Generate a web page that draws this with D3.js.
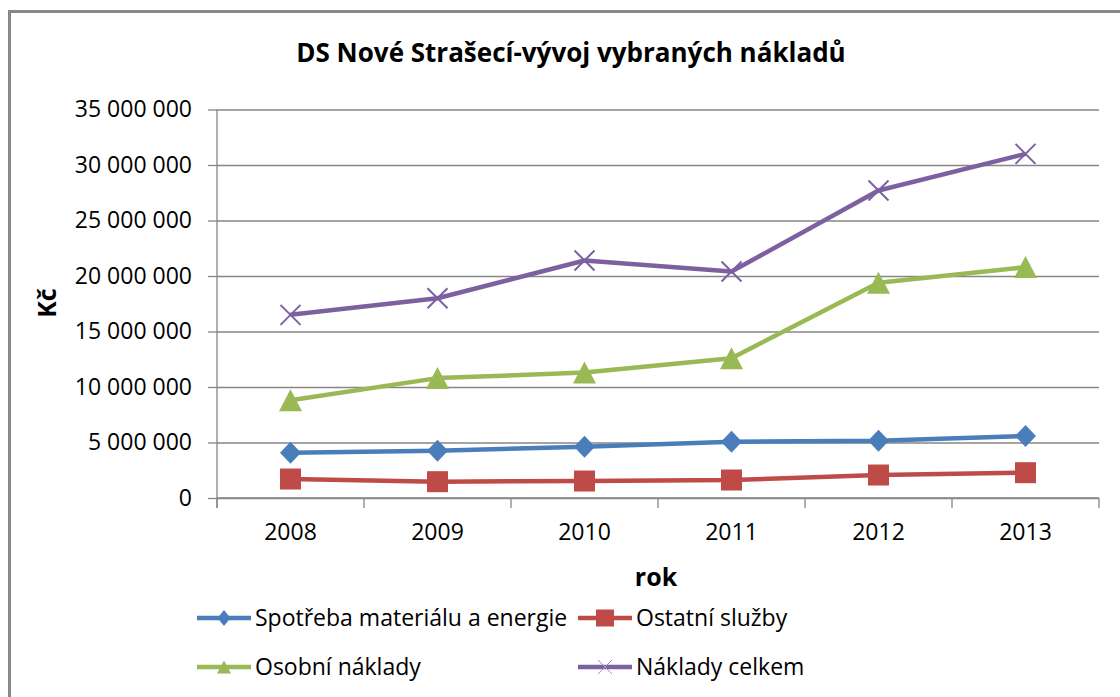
<!DOCTYPE html>
<html>
<head>
<meta charset="utf-8">
<script src="https://cdn.jsdelivr.net/npm/d3@7"></script>
<style>
  body { margin: 0; background: #fff; }
  svg text { font-family: "Open Sans", "Noto Sans", sans-serif; fill: #000; }
  .axis path, .axis line { stroke: #868686; }
</style>
</head>
<body>
<svg id="chartSvg" width="1120" height="697"></svg>
<script>
var years = ['2008', '2009', '2010', '2011', '2012', '2013']
var spotreba = [4080000, 4260000, 4620000, 5070000, 5160000, 5590000]
var ostatni = [1710000, 1470000, 1530000, 1620000, 2070000, 2280000]
var osobni = [8800000, 10800000, 11300000, 12600000, 19400000, 20800000]
var celkem = [16500000, 18000000, 21400000, 20400000, 27700000, 31000000]
var seriesNames = ['Spotřeba materiálu a energie', 'Ostatní služby', 'Osobní náklady', 'Náklady celkem']
var yTicks = [0, 5000000, 10000000, 15000000, 20000000, 25000000, 30000000, 35000000]

var svg = d3.select('#chartSvg')

// outer frame (right and bottom edges fall outside the picture)
svg.append('rect')
    .attr('x', 9.5).attr('y', 11.5)
    .attr('width', 1130).attr('height', 700)
    .attr('fill', 'none')
    .attr('stroke', '#888')
    .attr('stroke-width', 3)

var plotLeft = 217, plotRight = 1099, plotTop = 109.5, plotBottom = 498

var x = d3.scaleBand()
    .domain(years)
    .range([plotLeft, plotRight])
    .padding(0)
var y = d3.scaleLinear()
    .domain([0, 35000000])
    .range([plotBottom, plotTop])

var fmt = function (d) { return d3.format(',')(d).replace(/,/g, ' ') }

// gridlines
svg.append('g')
    .attr('class', 'axis')
    .attr('transform', `translate(${plotLeft},0)`)
    .call(d3.axisRight(y).tickValues(yTicks).tickSize(plotRight - plotLeft).tickFormat(''))
    .call(g => g.select('.domain').remove())
    .selectAll('line').attr('stroke-width', 1.3)

// y axis
var gY = svg.append('g')
    .attr('class', 'axis')
    .attr('transform', `translate(${plotLeft},0)`)
    .call(d3.axisLeft(y).tickValues(yTicks).tickSize(9).tickSizeOuter(0).tickPadding(16).tickFormat(fmt))
gY.select('.domain').attr('stroke-width', 1.3).attr('d', `M0,${plotTop}V${plotBottom + 10}`)
gY.selectAll('line').attr('stroke-width', 1.3)
gY.selectAll('text').attr('font-size', 23).style('font-family', '"Open Sans", sans-serif').attr('fill', '#000')

// x axis: labels centred in band, ticks on band edges
var gX = svg.append('g')
    .attr('class', 'axis')
    .attr('transform', `translate(0,${plotBottom})`)
    .call(d3.axisBottom(x).tickSize(0).tickPadding(26))
gX.select('.domain').attr('stroke-width', 1.3).attr('d', `M${plotLeft},0H${plotRight}`)
gX.selectAll('text').attr('font-size', 23).style('font-family', '"Open Sans", sans-serif').attr('fill', '#000')
gX.selectAll('.edgeTick')
    .data(years.map(d => x(d)).concat([plotRight]))
    .join('line')
    .attr('class', 'edgeTick')
    .attr('x1', d => d).attr('x2', d => d)
    .attr('y1', 0).attr('y2', 10)
    .attr('stroke', '#868686')
    .attr('stroke-width', 1.3)

// titles
svg.append('text')
    .attr('x', 571).attr('y', 62)
    .attr('text-anchor', 'middle')
    .attr('font-size', 26).attr('font-weight', 'bold')
    .text('DS Nové Strašecí-vývoj vybraných nákladů')
svg.append('text')
    .attr('x', 656).attr('y', 586)
    .attr('text-anchor', 'middle')
    .attr('font-size', 25).attr('font-weight', 'bold')
    .text('rok')
svg.append('text')
    .attr('transform', 'translate(56,303) rotate(-90)')
    .attr('text-anchor', 'middle')
    .attr('font-size', 25).attr('font-weight', 'bold')
    .text('Kč')

// marker shapes
function diamond(w, h) { return `M0,${-h / 2}L${w / 2},0L0,${h / 2}L${-w / 2},0Z` }
function square(w, h) { return `M${-w / 2},${-h / 2}H${w / 2}V${h / 2}H${-w / 2}Z` }
function triangle(w, h) { return `M0,${-h / 2}L${w / 2},${h / 2}H${-w / 2}Z` }
function cross(w, h) { return `M${-w / 2},${-h / 2}L${w / 2},${h / 2}M${-w / 2},${h / 2}L${w / 2},${-h / 2}` }

var series = [
    { name: seriesNames[0], values: spotreba, color: '#4a7ebb', shape: diamond, fill: true },
    { name: seriesNames[1], values: ostatni, color: '#be4b48', shape: square, fill: true },
    { name: seriesNames[2], values: osobni, color: '#98b954', shape: triangle, fill: true },
    { name: seriesNames[3], values: celkem, color: '#7d60a0', shape: cross, fill: false }
]

var line = d3.line()
    .x((d, i) => x(years[i]) + x.bandwidth() / 2)
    .y(d => y(d))

var gSeries = svg.selectAll('.series')
    .data(series)
    .join('g')
    .attr('class', 'series')

gSeries.append('path')
    .attr('d', d => line(d.values))
    .attr('fill', 'none')
    .attr('stroke', d => d.color)
    .attr('stroke-width', 4.5)
    .attr('stroke-linejoin', 'round')

gSeries.each(function (s) {
    d3.select(this).selectAll('.marker')
        .data(s.values)
        .join('path')
        .attr('class', 'marker')
        .attr('transform', (d, i) => `translate(${x(years[i]) + x.bandwidth() / 2},${y(d)})`)
        .attr('d', s.shape === diamond ? diamond(21, 22) : s.shape === square ? square(21, 21) : s.shape === triangle ? triangle(23, 22) : cross(20, 20))
        .attr('fill', s.fill ? s.color : 'none')
        .attr('stroke', s.color)
        .attr('stroke-width', s.fill ? 0 : 2)
})

// legend
var legendPos = [[197, 618], [578, 618], [197, 667], [578, 667]]
var gLegend = svg.selectAll('.legendItem')
    .data(series)
    .join('g')
    .attr('class', 'legendItem')
    .attr('transform', (d, i) => `translate(${legendPos[i][0]},${legendPos[i][1]})`)
gLegend.append('line')
    .attr('x1', 0).attr('x2', 54)
    .attr('y1', 0).attr('y2', 0)
    .attr('stroke', d => d.color)
    .attr('stroke-width', 4.5)
gLegend.append('path')
    .attr('transform', 'translate(27,0)')
    .attr('d', (d, i) => [diamond(13, 16), square(18, 17), triangle(14, 13), cross(14, 14)][i])
    .attr('fill', d => d.fill ? d.color : 'none')
    .attr('stroke', d => d.fill ? 'none' : '#a590c0')
    .attr('stroke-width', 1)
gLegend.append('text')
    .attr('x', 58).attr('y', 8)
    .attr('font-size', 23)
    .text(d => d.name)
</script>
</body>
</html>
